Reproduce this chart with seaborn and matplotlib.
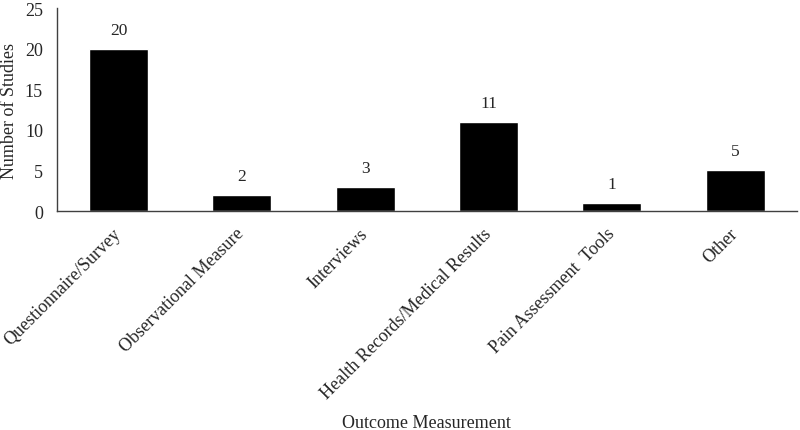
import pandas as pd
import numpy as np
import matplotlib.pyplot as plt
import seaborn as sns

categories = ['Questionnaire/Survey', 'Observational Measure', 'Interviews',
              'Health Records/Medical Results', 'Pain Assessment  Tools', 'Other']
counts = [20, 2, 3, 11, 1, 5]
y_ticks = [0, 5, 10, 15, 20, 25]

data = pd.DataFrame({'Outcome Measurement': categories, 'Number of Studies': counts})

sns.set_style('white')
plt.rcParams['font.family'] = ['Liberation Serif', 'DejaVu Serif']

fig = plt.figure(figsize=(8, 4.31), dpi=100)
ax = fig.add_axes([0.071, 0.508, 0.925, 0.471])

sns.barplot(data=data, x='Outcome Measurement', y='Number of Studies',
            color='black', saturation=1, width=0.48, ax=ax)

for c in ax.containers:
    ax.bar_label(c, padding=8, fontsize=12.5)

ax.set_xlim(-0.5, len(categories) - 0.5)
ax.set_ylim(0, 25)
ax.set_yticks(y_ticks)
ax.tick_params(axis='y', length=0, pad=10, labelsize=13)
ax.tick_params(axis='x', length=0, pad=14, labelsize=13)
plt.setp(ax.get_xticklabels(), rotation=45, ha='right', va='center', rotation_mode='anchor')

for side in ['top', 'right']:
    ax.spines[side].set_visible(False)
for side in ['left', 'bottom']:
    ax.spines[side].set_color('#404040')
    ax.spines[side].set_linewidth(1.0)

ax.set_ylabel('Number of Studies', fontsize=13, labelpad=5)
ax.set_xlabel('Outcome Measurement', fontsize=13)
# the long rotated tick labels push the label off the figure, so pin it
ax.xaxis.set_label_coords(0.5, -1.0)

plt.savefig('out.png', dpi=100)
print("Picture has been saved as out.png")
